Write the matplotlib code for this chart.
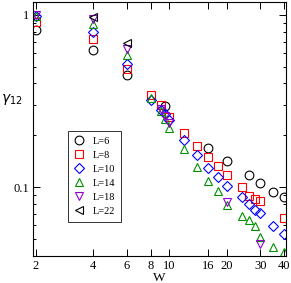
import numpy as np
import matplotlib
matplotlib.use("Agg")
import matplotlib.pyplot as plt
from matplotlib.ticker import FixedLocator, NullFormatter, NullLocator

plt.rcParams["font.family"] = ["Liberation Serif", "DejaVu Serif"]

# data
w_L6 = [2, 4, 6, 9.5, 16, 20, 26, 30, 35, 40]
g_L6 = [0.815, 0.626, 0.45, 0.295, 0.169, 0.142, 0.117, 0.105, 0.094, 0.088]

w_L8 = [2, 4, 6, 8, 9, 10, 12, 14, 16, 18, 20, 24, 26, 28, 30, 40]
g_L8 = [0.914, 0.722, 0.485, 0.345, 0.30, 0.255, 0.205, 0.174, 0.149, 0.132,
        0.118, 0.0996, 0.089, 0.085, 0.0825, 0.0663]

w_L10 = [2, 4, 6, 8, 9, 9.5, 10, 12, 14, 16, 18, 20, 24, 26, 28, 30, 35, 40]
g_L10 = [0.99, 0.80, 0.516, 0.322, 0.28, 0.265, 0.245, 0.188, 0.154, 0.129,
         0.115, 0.102, 0.088, 0.080, 0.0735, 0.0705, 0.0596, 0.0533]

w_L14 = [2, 4, 6, 8, 9, 9.5, 10, 12, 14, 16, 18, 20, 24, 26, 28, 30, 35, 40]
g_L14 = [0.99, 0.886, 0.585, 0.330, 0.275, 0.25, 0.22, 0.166, 0.130, 0.108,
         0.095, 0.0786, 0.068, 0.0643, 0.0595, 0.051, 0.0446, 0.042]

w_L18 = [2, 4, 6, 9, 9.5, 10, 20, 30]
g_L18 = [1.0, 0.944, 0.634, 0.285, 0.26, 0.235, 0.0815, 0.0466]

w_L22 = [4, 6]
g_L22 = [0.977, 0.69]

x_ticks = [2, 4, 6, 8, 10, 16, 20, 30, 40]
y_ticks = [0.1, 1]
y_tick_labels = ["0.1", "1"]

series = [
    ("L=6", w_L6, g_L6, "o", "black"),
    ("L=8", w_L8, g_L8, "s", "red"),
    ("L=10", w_L10, g_L10, "D", "blue"),
    ("L=14", w_L14, g_L14, "^", "#009000"),
    ("L=18", w_L18, g_L18, "v", "#9400d3"),
    ("L=22", w_L22, g_L22, "<", "black"),
]

fig = plt.figure(figsize=(2.91, 2.83), dpi=100)
ax = fig.add_axes([0.1134, 0.0965, 0.8694, 0.8965])

for label, w, g, m, c in series:
    ms = 5.2 if m == "D" else 6.3
    ax.plot(w, g, linestyle="none", marker=m, markersize=ms,
            markerfacecolor="none", markeredgecolor=c, markeredgewidth=0.8,
            label=label)

ax.set_xscale("log")
ax.set_yscale("log")
ax.set_xlim(1.936, 40.8)
ax.set_ylim(0.0399, 1.19)

ax.xaxis.set_major_locator(FixedLocator(x_ticks))
ax.set_xticklabels([str(t) for t in x_ticks])
ax.xaxis.set_minor_locator(NullLocator())
ax.yaxis.set_major_locator(FixedLocator(y_ticks))
ax.set_yticklabels(y_tick_labels)
ax.yaxis.set_minor_formatter(NullFormatter())

ax.tick_params(which="both", direction="in", top=True, right=True,
               labelsize=9, width=0.7, pad=3)
ax.tick_params(which="major", length=4.8)
ax.tick_params(which="minor", length=2.4)
for s in ax.spines.values():
    s.set_linewidth(0.8)

ax.set_xlabel("W", fontsize=9.5, labelpad=0)
ax.set_ylabel(r"$\gamma_{12}$", fontsize=10, rotation=0, family="DejaVu Sans")
ax.yaxis.set_label_coords(-0.085, 0.585)

leg = ax.legend(loc="lower left", bbox_to_anchor=(0.137, 0.132), fontsize=7.5,
                frameon=True, fancybox=False, edgecolor="black",
                handlelength=1.0, handletextpad=0.8, borderpad=0.6,
                labelspacing=0.45, borderaxespad=0)
leg.get_frame().set_linewidth(0.7)

fig.savefig("out.png", dpi=100)
